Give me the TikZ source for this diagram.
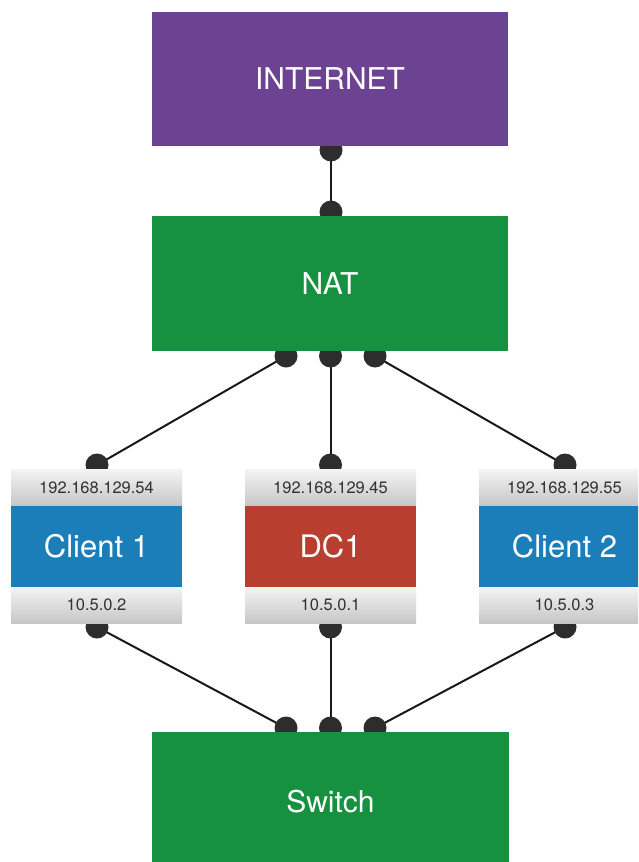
\documentclass[tikz,border=0pt]{standalone}
\usepackage{fontspec}
\setmainfont{TeX Gyre Heros}
\usetikzlibrary{calc}
\pgfdeclarelayer{paper}
\pgfdeclarelayer{bg}
\pgfsetlayers{paper,bg,main}
\definecolor{inetpurple}{RGB}{108,66,146}
\definecolor{netgreen}{RGB}{22,145,64}
\definecolor{hostblue}{RGB}{27,126,184}
\definecolor{dcred}{RGB}{184,62,48}
\definecolor{labeltop}{RGB}{244,244,244}
\definecolor{labelbot}{RGB}{198,198,198}
\definecolor{labeltext}{RGB}{50,50,50}
\definecolor{bumpgray}{RGB}{45,45,45}
\definecolor{linecol}{RGB}{25,25,25}
\tikzset{
  bigbox/.style={draw=none, minimum width=356pt, minimum height=134pt, inner sep=0pt, outer sep=0pt, text=white, font=\fontsize{30}{36}\selectfont},
  devbox/.style={draw=none, minimum width=171pt, minimum height=81pt, inner sep=0pt, outer sep=0pt, text=white, font=\fontsize{31}{36}\selectfont},
  iplabel/.style={draw=none, minimum width=171pt, inner sep=0pt, outer sep=0pt, text=labeltext, font=\fontsize{16.5}{19}\selectfont, top color=labeltop, bottom color=labelbot},
  bump/.style={fill=bumpgray},
  link/.style={line width=2pt, draw=linecol},
}
\begin{document}
\begin{tikzpicture}[x=1pt,y=-1pt]
\useasboundingbox (0,0) rectangle (638,862);
\clip (0,0) rectangle (638,862);
\begin{pgfonlayer}{paper}
\fill[white] (0,0) rectangle (638,862);
\end{pgfonlayer}

% main boxes
\node[bigbox, fill=inetpurple] (inet) at (330,79) {INTERNET};
\node[bigbox, fill=netgreen, minimum height=135pt] (nat) at (330,283.5) {NAT};
\node[bigbox, fill=netgreen, minimum width=357pt, minimum height=140pt] (sw) at (330.5,802) {Switch};

% Client 1
\node[iplabel, minimum height=37pt] (c1top) at (96.5,487.5) {192.168.129.54};
\node[devbox, fill=hostblue] (c1) at (96.5,546.5) {Client 1};
\node[iplabel, minimum height=36pt] (c1bot) at (96.5,605) {10.5.0.2};
% DC1
\node[iplabel, minimum height=37pt] (dctop) at (330.5,487.5) {192.168.129.45};
\node[devbox, fill=dcred] (dc) at (330.5,546.5) {DC1};
\node[iplabel, minimum height=36pt] (dcbot) at (330.5,605) {10.5.0.1};
% Client 2
\node[iplabel, minimum height=37pt] (c2top) at (564.5,487.5) {192.168.129.55};
\node[devbox, fill=hostblue] (c2) at (564.5,546.5) {Client 2};
\node[iplabel, minimum height=36pt] (c2bot) at (564.5,605) {10.5.0.3};

% port coordinates (bump centres)
\coordinate (pInet) at ($(inet.south)+(1,4)$);
\coordinate (pNatT) at ($(nat.north)+(1,-4)$);
\coordinate (pNatL) at ($(nat.south)+(-44,5)$);
\coordinate (pNatM) at ($(nat.south)+(0.5,5)$);
\coordinate (pNatR) at ($(nat.south)+(45,5)$);
\coordinate (pC1T) at ($(c1top.north)+(0.5,-4)$);
\coordinate (pDcT) at ($(dctop.north)+(0,-4)$);
\coordinate (pC2T) at ($(c2top.north)+(0.5,-4)$);
\coordinate (pC1B) at ($(c1bot.south)+(0.5,4)$);
\coordinate (pDcB) at ($(dcbot.south)+(0,4)$);
\coordinate (pC2B) at ($(c2bot.south)+(0.5,4)$);
\coordinate (pSwL) at ($(sw.north)+(-44.5,-4)$);
\coordinate (pSwM) at ($(sw.north)+(0,-4)$);
\coordinate (pSwR) at ($(sw.north)+(44.5,-4)$);

\begin{pgfonlayer}{bg}
  \draw[link] (pInet) -- (pNatT);
  \draw[link] (pNatL) -- (pC1T);
  \draw[link] (pNatM) -- (pDcT);
  \draw[link] (pNatR) -- (pC2T);
  \draw[link] (pC1B) -- (pSwL);
  \draw[link] (pDcB) -- (pSwM);
  \draw[link] (pC2B) -- (pSwR);
  \foreach \p in {pInet,pNatT,pNatL,pNatM,pNatR,pC1T,pDcT,pC2T,pC1B,pDcB,pC2B,pSwL,pSwM,pSwR}
    \fill[bump] (\p) circle[radius=11.5pt];
\end{pgfonlayer}
\end{tikzpicture}
\end{document}
